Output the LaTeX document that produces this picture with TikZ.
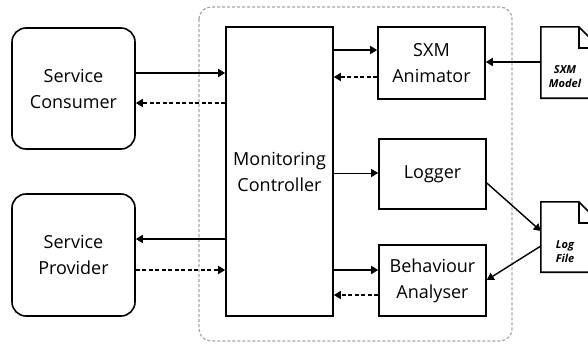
\documentclass[tikz,border=0pt]{standalone}
\usepackage{fontspec}
\setmainfont{Open Sans}
\usetikzlibrary{arrows.meta}
\begin{document}
\begin{tikzpicture}[x=1pt,y=-1pt,
  box/.style={draw,line width=1.6pt,align=center,inner sep=0pt,font=\fontsize{18}{26}\selectfont},
  rbox/.style={box,rounded corners=14pt},
  arr/.style={line width=1.4pt,-{Triangle[length=7pt,width=8pt]}},
  darr/.style={arr,dash pattern=on 4pt off 2.5pt},
  docl/.style={font=\fontsize{11}{14}\selectfont\bfseries\itshape,align=center,inner sep=0pt},
  docb/.style={line width=1.6pt,line join=miter}
]
\clip (0,0) rectangle (588,343);
\fill[white] (0,0) rectangle (588,343);
% outer dashed container
\draw[gray!70,line width=1.2pt,dash pattern=on 3pt off 2pt,rounded corners=12pt] (199,7) rectangle (512,341);
% boxes
\node[rbox,minimum width=123pt,minimum height=121pt] (cons) at (73.5,88.5) {Service\\Consumer};
\node[rbox,minimum width=123pt,minimum height=122pt] (prov) at (73.5,255) {Service\\Provider};
\node[box,minimum width=107pt,minimum height=289pt] (mc) at (279.5,171.5) {Monitoring\\Controller};
\node[box,minimum width=107pt,minimum height=72pt] (sxm) at (431.5,63) {SXM\\Animator};
\node[box,minimum width=107pt,minimum height=70pt] (log) at (432.5,174) {Logger};
\node[box,minimum width=107pt,minimum height=71pt] (beh) at (432.5,280.5) {Behaviour\\Analyser};
% documents
\node[minimum width=59pt,minimum height=71pt,inner sep=0pt] (model) at (570.5,62.5) {};
\draw[docb] (model.north west) -- ++(38,0) -- ++(21,21) |- (model.south west) -- cycle;
\draw[docb] (model.north west) ++(38,0) -- ++(0,21) -- ++(21,0);
\node[docl] (modelt) at (565,77) {SXM\\Model};
\node[minimum width=59pt,minimum height=70pt,inner sep=0pt] (logf) at (570.5,237) {};
\draw[docb] (logf.north west) -- ++(38,0) -- ++(21,21) |- (logf.south west) -- cycle;
\draw[docb] (logf.north west) ++(38,0) -- ++(0,21) -- ++(21,0);
\node[docl] (logft) at (565,251.5) {Log\\File};
% connectors
\draw[arr] (cons.east |- 0,73) -- (mc.west |- 0,73);
\draw[darr] (mc.west |- 0,103) -- (cons.east |- 0,103);
\draw[arr] (mc.west |- 0,239) -- (prov.east |- 0,239);
\draw[darr] (prov.east |- 0,270) -- (mc.west |- 0,270);
\draw[arr] (mc.east |- 0,50) -- (sxm.west |- 0,50);
\draw[darr] (sxm.west |- 0,77) -- (mc.east |- 0,77);
\draw[arr] (model.west |- 0,62) -- (sxm.east |- 0,62);
\draw[arr,line width=0.9pt] (mc.east |- 0,173) -- (log.west |- 0,173);
\draw[arr] (log.east |- 0,183) -- (logf.west |- 0,231);
\draw[arr] (logf.west |- 0,246) -- (beh.east |- 0,280);
\draw[arr] (mc.east |- 0,270) -- (beh.west |- 0,270);
\draw[darr] (beh.west |- 0,295) -- (mc.east |- 0,295);
\end{tikzpicture}
\end{document}
